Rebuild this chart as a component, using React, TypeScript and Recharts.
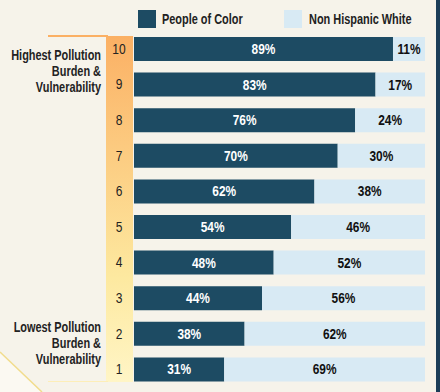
import { BarChart, Bar, XAxis, YAxis, LabelList } from 'recharts'

const DECILES = ['10', '9', '8', '7', '6', '5', '4', '3', '2', '1']
const PEOPLE_OF_COLOR = [89, 83, 76, 70, 62, 54, 48, 44, 38, 31]
const NON_HISPANIC_WHITE = [11, 17, 24, 30, 38, 46, 52, 56, 62, 69]
const TOP_LABEL = ['Highest Pollution', 'Burden &', 'Vulnerability']
const BOTTOM_LABEL = ['Lowest Pollution', 'Burden &', 'Vulnerability']

const DARK = '#1d4b63'
const LIGHT = '#d8eaf4'
const BG = '#f6f3ea'
const FONT = '"Liberation Sans", Arial, sans-serif'
// no condensed face installed, so text gets squeezed horizontally
const SQUEEZE = 0.78

const data = DECILES.map((d, i) => ({
    decile: d,
    poc: PEOPLE_OF_COLOR[i],
    white: NON_HISPANIC_WHITE[i],
}))

function DecileTick({ y, payload }: any) {
    return (
        <text transform={`translate(119,${y + 5}) scale(0.8,1)`} textAnchor="middle" fontSize={15} fill="#222" fontFamily={FONT}>
            {payload.value}
        </text>
    )
}

function pctLabel(color: string) {
    return (props: any) => {
        const { x, y, width, height, value } = props
        const cx = Number(x) + Number(width) / 2
        const cy = Number(y) + Number(height) / 2 + 5
        return (
            <text transform={`translate(${cx},${cy}) scale(0.85,1)`} textAnchor="middle"
                fill={color} fontSize={14} fontWeight={700} fontFamily={FONT}>
                {`${value}%`}
            </text>
        )
    }
}

const textStyle = {
    whiteSpace: 'nowrap' as const, fontFamily: FONT, fontSize: 14,
    lineHeight: '16px', color: '#222', fontWeight: 700,
}

function LegendText({ left, children }: any) {
    return (
        <div style={{ ...textStyle, position: 'absolute', left, top: 11, transform: `scaleX(${SQUEEZE})`, transformOrigin: 'left' }}>
            {children}
        </div>
    )
}

// right-aligned block whose right edge sits at x=101
function SideLabel({ lines, top }: { lines: string[]; top: number }) {
    return (
        <div style={{ position: 'absolute', left: -99, top, width: 200 }}>
            {lines.map(l => (
                <div key={l} style={{ ...textStyle, textAlign: 'right', transform: `scaleX(${SQUEEZE})`, transformOrigin: 'right' }}>
                    {l}
                </div>
            ))}
        </div>
    )
}

export default function App() {
    return (
        <div style={{ position: 'fixed', left: 0, top: 0, width: 440, height: 392, background: BG, overflow: 'hidden' }}>
            {/* gradient band behind decile numbers */}
            <div style={{ position: 'absolute', left: 106, top: 36, width: 27, height: 346, background: 'linear-gradient(#fbb064, #fde9a0 70%, #fff5c6)' }} />
            <div style={{ position: 'absolute', left: 48, top: 35, width: 60, height: 2, background: '#fbb064' }} />
            <div style={{ position: 'absolute', left: 48, top: 381, width: 60, height: 1, background: '#fdeeb8' }} />
            <div style={{ position: 'absolute', left: 436, top: 0, width: 4, height: 392, background: '#1c3d58' }} />
            <svg style={{ position: 'absolute', left: 0, top: 0 }} width={440} height={392}>
                <polygon points="0,352 42,392 0,392" fill="#fbf9f2" />
                <line x1={0} y1={352} x2={42} y2={392} stroke="#f1dc8c" strokeWidth={1.5} />
            </svg>

            {/* legend */}
            <div style={{ position: 'absolute', left: 138, top: 10, width: 18, height: 18, background: DARK }} />
            <LegendText left={162}>People of Color</LegendText>
            <div style={{ position: 'absolute', left: 284, top: 10, width: 18, height: 18, background: LIGHT }} />
            <LegendText left={309}>Non Hispanic White</LegendText>

            <SideLabel lines={TOP_LABEL} top={47} />
            <SideLabel lines={BOTTOM_LABEL} top={319} />

            <div style={{ position: 'absolute', left: 0, top: 0 }}>
                <BarChart width={440} height={392} data={data} layout="vertical"
                    margin={{ top: 31, right: 15, left: 106, bottom: 5 }} barSize={24}>
                    <XAxis type="number" domain={[0, 100]} hide />
                    <YAxis type="category" dataKey="decile" width={28} axisLine={false} tickLine={false} tick={<DecileTick />} />
                    <Bar dataKey="poc" stackId="s" fill={DARK} isAnimationActive={false}>
                        <LabelList dataKey="poc" content={pctLabel('#fff')} />
                    </Bar>
                    <Bar dataKey="white" stackId="s" fill={LIGHT} isAnimationActive={false}>
                        <LabelList dataKey="white" content={pctLabel('#111')} />
                    </Bar>
                </BarChart>
            </div>
        </div>
    )
}
